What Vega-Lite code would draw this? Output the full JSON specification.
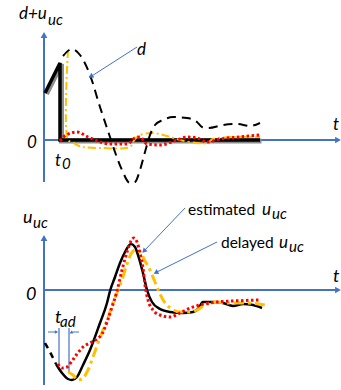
{
  "$schema": "https://vega.github.io/schema/vega-lite/v6.json",
  "padding": 0,
  "spacing": 0,
  "bounds": "flush",
  "config": {"view": {"stroke": null}, "font": "Lato"},
  "vconcat": [
    {
      "width": 341,
      "height": 195,
      "encoding": {
        "x": {"field": "t", "type": "quantitative", "scale": {"domain": [-4.4, 29.7], "nice": false, "zero": false}, "axis": null},
        "y": {"field": "v", "type": "quantitative", "scale": {"domain": [-5.5, 14.0], "nice": false, "zero": false}, "axis": null}
      },
      "layer": [
        {
          "data": {"values": [
            {"axis": "v", "t": 0, "v": -4.2}, {"axis": "v", "t": 0, "v": 10.4},
            {"axis": "t", "t": 0, "v": 0}, {"axis": "t", "t": 29.3, "v": 0}
          ]},
          "mark": {"type": "line", "color": "#4472C4", "strokeWidth": 2},
          "encoding": {"detail": {"field": "axis"}}
        },
        {
          "data": {"values": [
            {"dir": "up", "t": 0, "v": 10.5},
            {"dir": "right", "t": 29.4, "v": 0}
          ]},
          "mark": {"type": "point", "filled": true, "color": "#4472C4", "opacity": 1, "size": 45},
          "encoding": {"shape": {"field": "dir", "scale": {"domain": ["up", "right"], "range": ["triangle-up", "triangle-right"]}, "legend": null}}
        },
        {
          "data": {"values": [
            {"i": 0, "t": 0.1, "v": 4.7}, {"i": 1, "t": 1.6, "v": 7.7},
            {"i": 2, "t": 1.6, "v": 0}, {"i": 3, "t": 21.6, "v": 0}
          ]},
          "mark": {"type": "line", "color": "#8c8c8c", "strokeWidth": 5, "xOffset": 1.5, "yOffset": 1, "strokeJoin": "miter"},
          "encoding": {"order": {"field": "i"}}
        },
        {
          "data": {"values": [
            {"i": 0, "t": 0.1, "v": 4.7}, {"i": 1, "t": 1.6, "v": 7.7},
            {"i": 2, "t": 1.6, "v": 0}, {"i": 3, "t": 21.6, "v": 0}
          ]},
          "mark": {"type": "line", "color": "#000000", "strokeWidth": 3.5, "strokeJoin": "miter"},
          "encoding": {"order": {"field": "i"}}
        },
        {
          "data": {"values": [
            {"i": 0, "t": 2.4, "v": 9.0}, {"i": 1, "t": 2.4, "v": 0.0},
            {"i": 2, "t": 2.8, "v": -0.2}, {"i": 3, "t": 3.3, "v": -0.5},
            {"i": 4, "t": 3.9, "v": -0.7}, {"i": 5, "t": 5.6, "v": -0.8},
            {"i": 6, "t": 8.6, "v": -0.7}, {"i": 7, "t": 8.9, "v": -0.2},
            {"i": 8, "t": 9.2, "v": 0.2}, {"i": 9, "t": 9.6, "v": 0.5},
            {"i": 10, "t": 10.9, "v": 0.7}, {"i": 11, "t": 12.3, "v": 0.4},
            {"i": 12, "t": 13.6, "v": 0.0}, {"i": 13, "t": 15.3, "v": -0.3},
            {"i": 14, "t": 16.3, "v": -0.3}, {"i": 15, "t": 16.9, "v": 0.1},
            {"i": 16, "t": 18.9, "v": 0.3}, {"i": 17, "t": 21.6, "v": 0.3}
          ]},
          "mark": {"type": "line", "color": "#FFC000", "strokeWidth": 2, "strokeDash": [8, 3, 2, 3], "interpolate": "catmull-rom"},
          "encoding": {"order": {"field": "i"}}
        },
        {
          "data": {"values": [
            {"t": 1.6, "v": -0.1}, {"t": 2.2, "v": 0.5}, {"t": 3.3, "v": 0.8},
            {"t": 4.4, "v": 0.3}, {"t": 5.6, "v": -0.2}, {"t": 6.6, "v": -0.4},
            {"t": 8.3, "v": -0.4}, {"t": 9.1, "v": 0.2}, {"t": 9.6, "v": 0.3},
            {"t": 10.3, "v": -0.4}, {"t": 11.6, "v": -0.5}, {"t": 13.3, "v": 0.0},
            {"t": 14.3, "v": 0.3}, {"t": 15.3, "v": 0.2}, {"t": 16.3, "v": -0.2},
            {"t": 17.6, "v": 0.1}, {"t": 19.6, "v": 0.3}, {"t": 21.6, "v": 0.5}
          ]},
          "mark": {"type": "line", "color": "#FF0000", "strokeWidth": 3, "strokeDash": [2.5, 2.5], "interpolate": "monotone"}
        },
        {
          "data": {"values": [
            {"t": 1.9, "v": 8.4}, {"t": 2.8, "v": 9.1}, {"t": 3.6, "v": 8.5},
            {"t": 4.6, "v": 6.5}, {"t": 5.6, "v": 3.3}, {"t": 6.6, "v": 0.3},
            {"t": 7.1, "v": -1.2}, {"t": 7.8, "v": -3.0}, {"t": 8.6, "v": -4.3},
            {"t": 9.1, "v": -4.2}, {"t": 9.6, "v": -3.0}, {"t": 10.1, "v": -1.2},
            {"t": 10.6, "v": 0.5}, {"t": 11.1, "v": 1.5}, {"t": 11.9, "v": 2.0},
            {"t": 12.9, "v": 2.3}, {"t": 14.3, "v": 2.2}, {"t": 15.3, "v": 1.8},
            {"t": 15.8, "v": 1.3}, {"t": 16.4, "v": 1.2}, {"t": 17.9, "v": 1.5},
            {"t": 19.3, "v": 1.6}, {"t": 20.6, "v": 1.4}, {"t": 21.6, "v": 1.7}
          ]},
          "mark": {"type": "line", "color": "#000000", "strokeWidth": 2, "strokeDash": [9, 6], "interpolate": "monotone"}
        },
        {
          "data": {"values": [{"t": 9.3, "v": 9.3}, {"t": 4.7, "v": 6.35}]},
          "mark": {"type": "line", "color": "#4472C4", "strokeWidth": 1}
        },
        {
          "data": {"values": [{"t": 4.75, "v": 6.4}]},
          "mark": {"type": "point", "shape": "triangle", "filled": true, "color": "#4472C4", "opacity": 1, "size": 30, "angle": 237}
        },
        {
          "data": {"values": [
            {"label": "d+u", "t": -2.5, "v": 12.1},
            {"label": "0", "t": -1.7, "v": -0.8},
            {"label": "t", "t": 1.1, "v": -2.6},
            {"label": "d", "t": 9.3, "v": 8.5},
            {"label": "t", "t": 28.9, "v": 1.0}
          ]},
          "mark": {"type": "text", "align": "left", "baseline": "alphabetic", "fontStyle": "italic", "fontSize": 17, "color": "#000000"},
          "encoding": {"text": {"field": "label"}}
        },
        {
          "data": {"values": [
            {"label": "uc", "t": 0.4, "v": 11.5},
            {"label": "0", "t": 1.8, "v": -2.9}
          ]},
          "mark": {"type": "text", "align": "left", "baseline": "alphabetic", "fontStyle": "italic", "fontSize": 15, "color": "#000000"},
          "encoding": {"text": {"field": "label"}}
        }
      ]
    },
    {
      "width": 341,
      "height": 195,
      "encoding": {
        "x": {"field": "t", "type": "quantitative", "scale": {"domain": [-4.4, 29.7], "nice": false, "zero": false}, "axis": null},
        "y": {"field": "v", "type": "quantitative", "scale": {"domain": [-10.0, 9.5], "nice": false, "zero": false}, "axis": null}
      },
      "layer": [
        {
          "data": {"values": [
            {"axis": "v", "t": 0, "v": -9.5}, {"axis": "v", "t": 0, "v": 5.1},
            {"axis": "t", "t": 0, "v": 0}, {"axis": "t", "t": 29.3, "v": 0}
          ]},
          "mark": {"type": "line", "color": "#4472C4", "strokeWidth": 2},
          "encoding": {"detail": {"field": "axis"}}
        },
        {
          "data": {"values": [
            {"dir": "up", "t": 0, "v": 5.2},
            {"dir": "right", "t": 29.4, "v": 0}
          ]},
          "mark": {"type": "point", "filled": true, "color": "#4472C4", "opacity": 1, "size": 45},
          "encoding": {"shape": {"field": "dir", "scale": {"domain": ["up", "right"], "range": ["triangle-up", "triangle-right"]}, "legend": null}}
        },
        {
          "data": {"values": [
            {"mark": "a", "t": 1.5, "v": -3.8}, {"mark": "a", "t": 1.5, "v": -7.4},
            {"mark": "b", "t": 2.5, "v": -3.8}, {"mark": "b", "t": 2.5, "v": -8.2}
          ]},
          "mark": {"type": "line", "color": "#8FAADC", "strokeWidth": 2},
          "encoding": {"detail": {"field": "mark"}}
        },
        {
          "data": {"values": [
            {"mark": "a", "t": 0.4, "v": -4.2}, {"mark": "a", "t": 1.3, "v": -4.2},
            {"mark": "b", "t": 2.7, "v": -4.2}, {"mark": "b", "t": 3.5, "v": -4.2}
          ]},
          "mark": {"type": "line", "color": "#4472C4", "strokeWidth": 1},
          "encoding": {"detail": {"field": "mark"}}
        },
        {
          "data": {"values": [
            {"dir": "right", "t": 1.25, "v": -4.2},
            {"dir": "left", "t": 2.75, "v": -4.2}
          ]},
          "mark": {"type": "point", "filled": true, "color": "#4472C4", "opacity": 1, "size": 14},
          "encoding": {"shape": {"field": "dir", "scale": {"domain": ["right", "left"], "range": ["triangle-right", "triangle-left"]}, "legend": null}}
        },
        {
          "data": {"values": [
            {"t": 0.1, "v": -5.3}, {"t": 0.6, "v": -6.2}, {"t": 1.2, "v": -7.4}
          ]},
          "mark": {"type": "line", "color": "#000000", "strokeWidth": 2.5, "strokeDash": [6, 5], "interpolate": "monotone"}
        },
        {
          "data": {"values": [
            {"t": 1.2, "v": -7.4}, {"t": 1.8, "v": -8.3}, {"t": 2.4, "v": -8.9},
            {"t": 2.8, "v": -9.0}, {"t": 3.3, "v": -8.7}, {"t": 3.9, "v": -7.5},
            {"t": 4.6, "v": -6.0}, {"t": 5.6, "v": -3.3}, {"t": 6.3, "v": -1.3},
            {"t": 6.6, "v": -0.1}, {"t": 7.1, "v": 1.3}, {"t": 7.6, "v": 2.7},
            {"t": 8.1, "v": 3.8}, {"t": 8.7, "v": 4.6}, {"t": 9.1, "v": 4.3},
            {"t": 9.4, "v": 3.5}, {"t": 9.9, "v": 1.7}, {"t": 10.3, "v": 0.0},
            {"t": 10.8, "v": -1.2}, {"t": 11.6, "v": -1.9}, {"t": 12.6, "v": -2.2},
            {"t": 13.9, "v": -2.3}, {"t": 14.9, "v": -2.2}, {"t": 15.4, "v": -1.9},
            {"t": 15.9, "v": -1.2}, {"t": 16.9, "v": -1.2}, {"t": 17.9, "v": -1.3},
            {"t": 18.9, "v": -1.6}, {"t": 19.9, "v": -1.4}, {"t": 20.9, "v": -1.5},
            {"t": 21.8, "v": -1.8}
          ]},
          "mark": {"type": "line", "color": "#000000", "strokeWidth": 2.5, "interpolate": "monotone"}
        },
        {
          "data": {"values": [
            {"t": 2.4, "v": -8.2}, {"t": 2.9, "v": -8.5}, {"t": 3.4, "v": -9.0},
            {"t": 3.9, "v": -8.8}, {"t": 4.4, "v": -8.0}, {"t": 4.9, "v": -6.7},
            {"t": 5.4, "v": -5.3}, {"t": 5.9, "v": -4.0}, {"t": 6.4, "v": -2.8},
            {"t": 6.9, "v": -1.3}, {"t": 7.4, "v": 0.0}, {"t": 7.8, "v": 1.0},
            {"t": 8.3, "v": 2.6}, {"t": 8.7, "v": 3.6}, {"t": 9.1, "v": 4.0},
            {"t": 9.6, "v": 3.8}, {"t": 10.1, "v": 2.9}, {"t": 10.6, "v": 2.0},
            {"t": 11.1, "v": 0.8}, {"t": 11.6, "v": -0.4}, {"t": 12.1, "v": -1.3},
            {"t": 12.8, "v": -1.9}, {"t": 13.6, "v": -2.2}, {"t": 14.6, "v": -2.2},
            {"t": 15.3, "v": -2.0}, {"t": 16.1, "v": -1.5}, {"t": 17.1, "v": -1.2},
            {"t": 18.6, "v": -1.3}, {"t": 20.3, "v": -1.3}, {"t": 22.1, "v": -1.5}
          ]},
          "mark": {"type": "line", "color": "#FFC000", "strokeWidth": 3, "strokeDash": [10, 4, 3, 4], "interpolate": "monotone"}
        },
        {
          "data": {"values": [
            {"t": 1.4, "v": -7.4}, {"t": 1.8, "v": -7.8}, {"t": 2.3, "v": -7.7},
            {"t": 2.8, "v": -7.1}, {"t": 3.3, "v": -6.4}, {"t": 3.9, "v": -5.7},
            {"t": 4.6, "v": -5.3}, {"t": 5.3, "v": -4.9}, {"t": 5.8, "v": -4.4},
            {"t": 6.3, "v": -3.2}, {"t": 6.8, "v": -1.7}, {"t": 7.3, "v": -0.1},
            {"t": 7.8, "v": 2.0}, {"t": 8.3, "v": 3.8}, {"t": 8.7, "v": 4.9},
            {"t": 9.0, "v": 5.2}, {"t": 9.3, "v": 4.8}, {"t": 9.6, "v": 3.7},
            {"t": 9.9, "v": 2.2}, {"t": 10.1, "v": 0.5}, {"t": 10.4, "v": -1.0},
            {"t": 10.9, "v": -2.0}, {"t": 11.6, "v": -2.5}, {"t": 12.6, "v": -2.7},
            {"t": 13.6, "v": -2.3}, {"t": 14.6, "v": -1.8}, {"t": 15.6, "v": -1.5},
            {"t": 17.3, "v": -1.2}, {"t": 18.9, "v": -1.1}, {"t": 21.6, "v": -1.0}
          ]},
          "mark": {"type": "line", "color": "#FF0000", "strokeWidth": 3, "strokeDash": [2.5, 2.5], "interpolate": "monotone"}
        },
        {
          "data": {"values": [
            {"arrow": "estimated", "t": 14.1, "v": 8.2}, {"arrow": "estimated", "t": 10.0, "v": 3.9},
            {"arrow": "delayed", "t": 17.3, "v": 4.8}, {"arrow": "delayed", "t": 11.2, "v": 1.75}
          ]},
          "mark": {"type": "line", "color": "#4472C4", "strokeWidth": 1},
          "encoding": {"detail": {"field": "arrow"}}
        },
        {
          "data": {"values": [{"t": 10.05, "v": 3.95}]},
          "mark": {"type": "point", "shape": "triangle", "filled": true, "color": "#4472C4", "opacity": 1, "size": 30, "angle": 224}
        },
        {
          "data": {"values": [{"t": 11.25, "v": 1.78}]},
          "mark": {"type": "point", "shape": "triangle", "filled": true, "color": "#4472C4", "opacity": 1, "size": 30, "angle": 243}
        },
        {
          "data": {"values": [
            {"label": "u", "t": -2.1, "v": 6.7},
            {"label": "0", "t": -1.8, "v": -1.0},
            {"label": "t", "t": 28.9, "v": 0.8},
            {"label": "t", "t": 1.1, "v": -3.3}
          ]},
          "mark": {"type": "text", "align": "left", "baseline": "alphabetic", "fontStyle": "italic", "fontSize": 18, "color": "#000000"},
          "encoding": {"text": {"field": "label"}}
        },
        {
          "data": {"values": [
            {"label": "u", "t": 21.8, "v": 7.5},
            {"label": "u", "t": 23.5, "v": 4.2}
          ]},
          "mark": {"type": "text", "align": "left", "baseline": "alphabetic", "fontStyle": "italic", "fontSize": 17, "color": "#000000"},
          "encoding": {"text": {"field": "label"}}
        },
        {
          "data": {"values": [
            {"label": "uc", "t": -1.1, "v": 6.2},
            {"label": "ad", "t": 1.6, "v": -3.7},
            {"label": "uc", "t": 22.8, "v": 7.1},
            {"label": "uc", "t": 24.5, "v": 3.8}
          ]},
          "mark": {"type": "text", "align": "left", "baseline": "alphabetic", "fontStyle": "italic", "fontSize": 15, "color": "#000000"},
          "encoding": {"text": {"field": "label"}}
        },
        {
          "data": {"values": [
            {"label": "estimated", "t": 14.4, "v": 7.5},
            {"label": "delayed", "t": 17.7, "v": 4.2}
          ]},
          "mark": {"type": "text", "align": "left", "baseline": "alphabetic", "fontSize": 15.5, "color": "#000000"},
          "encoding": {"text": {"field": "label"}}
        }
      ]
    }
  ]
}
